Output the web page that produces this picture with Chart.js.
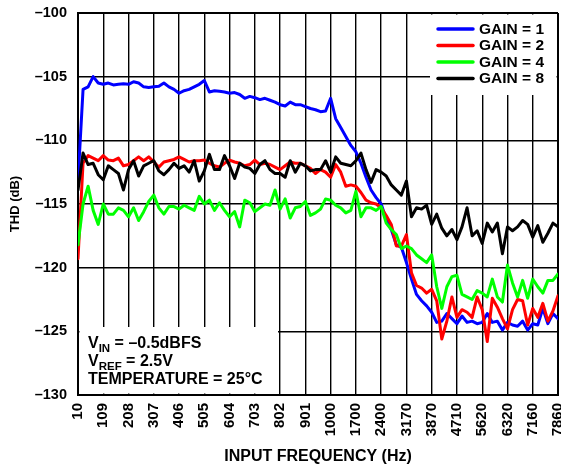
<!DOCTYPE html>
<html>
<head>
<meta charset="utf-8">
<script src="https://cdn.jsdelivr.net/npm/chart.js@4/dist/chart.umd.min.js"></script>
<style>
  html, body { margin: 0; padding: 0; background: #fff; }
  #wrap { width: 561px; height: 468px; }
</style>
</head>
<body>
<div id="wrap"><canvas id="c" width="561" height="468"></canvas></div>
<script>
// ---- data ----
const freqTicks = ['10','109','208','307','406','505','604','703','802','901','1000','1700','2400','3170','3870','4710','5620','6320','7160','7860'];
const samplesPerDiv = 5; // samples between adjacent frequency ticks
const thdTicks = [-130, -125, -120, -115, -110, -105, -100];

const gain1 = [
-113.2, -106.0, -105.8, -105.0, -105.5, -105.6, -105.5, -105.65, -105.6, -105.55,
-105.6, -105.4, -105.5, -105.8, -105.85, -105.8, -105.75, -105.5, -105.8, -106.0,
-106.3, -106.1, -106.0, -105.8, -105.6, -105.3, -106.2, -106.1, -106.15, -106.2,
-106.3, -106.25, -106.4, -106.7, -106.55, -106.65, -106.8, -106.7, -106.85, -107.0,
-107.2, -107.3, -107.0, -107.2, -107.2, -107.35, -107.5, -107.6, -107.75, -107.7,
-106.7, -108.3, -109.0, -109.7, -110.4, -110.9, -111.8, -112.9, -113.9, -114.5,
-115.0, -116.2, -117.0, -118.2, -118.4, -119.6, -120.9, -122.1, -122.6, -123.0,
-123.5, -124.3, -124.2, -123.6, -124.0, -124.4, -123.8, -124.3, -124.2, -124.4,
-124.3, -123.6, -124.3, -124.2, -124.9, -124.3, -124.5, -124.6, -124.2, -124.9,
-124.4, -124.5, -123.2, -124.4, -123.6, -124.0
];
const gain2 = [
-119.3, -111.8, -111.2, -111.4, -111.6, -111.2, -111.55, -111.6, -111.4, -112.0,
-111.9, -111.6, -111.3, -111.6, -111.3, -111.7, -112.1, -111.7, -111.6, -111.5,
-111.3, -111.5, -111.7, -111.6, -111.6, -111.55, -111.8, -112.0, -112.1, -111.8,
-111.55, -111.7, -111.8, -112.0, -111.9, -111.55, -111.9, -111.8, -111.9, -112.1,
-112.3, -112.0, -111.7, -111.8, -111.8, -112.0, -112.2, -112.6, -112.3, -112.5,
-112.9, -111.9, -112.5, -113.6, -113.5, -113.6, -114.1, -114.7, -114.9, -115.0,
-115.3, -115.9, -116.6, -118.3, -118.3, -117.4, -120.4, -121.4, -121.6, -122.0,
-121.7, -122.6, -125.6, -124.2, -122.3, -123.9, -123.3, -123.5, -123.9, -122.3,
-123.3, -125.8, -122.4, -123.1, -124.0, -124.8, -123.3, -122.5, -122.6, -124.5,
-123.2, -123.9, -122.8, -124.2, -123.4, -122.2
];
const gain4 = [
-118.2, -115.0, -113.6, -115.5, -116.6, -115.0, -115.8, -115.8, -115.3, -115.5,
-116.0, -115.3, -116.3, -115.6, -114.8, -114.3, -115.3, -115.8, -115.2, -115.2,
-115.4, -115.1, -115.3, -115.5, -114.4, -115.0, -114.7, -115.5, -114.9, -115.5,
-116.0, -115.6, -116.8, -114.7, -114.9, -115.6, -115.3, -115.0, -115.1, -113.9,
-115.4, -114.6, -116.1, -115.3, -115.2, -114.8, -115.9, -115.7, -115.4, -114.6,
-114.7, -115.1, -115.3, -115.7, -115.5, -114.0, -116.0, -115.3, -115.3, -115.5,
-115.2, -116.5, -117.0, -117.4, -118.5, -118.3, -118.5, -119.0, -119.3, -119.6,
-119.0, -121.5, -123.2, -121.5, -120.7, -120.6, -122.1, -122.3, -122.5, -121.8,
-122.0, -122.3, -120.9, -122.3, -122.7, -119.8, -121.2, -122.3, -121.0, -122.4,
-120.9, -121.5, -122.0, -121.0, -121.0, -120.5
];
const gain8 = [
-113.9, -111.0, -111.9, -111.8, -112.7, -113.1, -112.0, -112.3, -112.6, -113.9,
-112.3, -111.6, -112.8, -112.0, -111.8, -111.6, -112.4, -112.7, -112.3, -111.8,
-112.2, -112.0, -112.5, -111.6, -113.2, -112.4, -111.1, -112.3, -112.3, -111.2,
-112.0, -113.0, -111.8, -112.1, -112.2, -112.6, -111.9, -111.6, -112.3, -112.6,
-112.6, -112.9, -111.6, -112.5, -111.8, -112.0, -112.4, -112.3, -112.3, -111.6,
-112.5, -111.3, -111.8, -111.9, -112.0, -111.6, -111.0, -112.3, -113.3, -112.3,
-112.5, -112.8, -113.5, -113.9, -114.3, -113.2, -116.0, -115.3, -115.4, -115.1,
-116.6, -115.8, -116.9, -117.5, -117.0, -117.8, -116.8, -115.3, -117.5, -117.1,
-118.1, -116.5, -117.2, -116.5, -118.9, -116.8, -117.1, -116.8, -116.3, -116.6,
-117.6, -116.7, -118.0, -117.3, -116.5, -116.8
];
const seriesLabels = ['GAIN = 1', 'GAIN = 2', 'GAIN = 4', 'GAIN = 8'];
const seriesColors = ['#0000FF', '#FF0000', '#00FF00', '#000000'];

// ---- build ----
const FONT = '"Liberation Sans", Arial, Helvetica, sans-serif';
const toPts = arr => arr.map((v, i) => ({ x: i / samplesPerDiv, y: v }));
const allSeries = [gain1, gain2, gain4, gain8];
const drawOrder = [4, 3, 2, 1];

const datasets = allSeries.map((s, i) => ({
  label: seriesLabels[i],
  data: toPts(s),
  borderColor: seriesColors[i],
  backgroundColor: seriesColors[i],
  borderWidth: 3,
  pointRadius: 0,
  tension: 0,
  order: drawOrder[i],
  borderJoinStyle: 'round',
  borderCapStyle: 'round'
}));

const lastX = freqTicks.length - 1;

const overlayPlugin = {
  id: 'overlay',
  beforeDatasetsDraw(chart) {
    const ctx = chart.ctx;
    const a = chart.chartArea;
    ctx.save();
    ctx.fillStyle = '#fff';
    // legend box (top-right)
    ctx.fillRect(430, a.top + 1.5, a.right - 1.5 - 430, 95 - a.top - 1.5);
    // annotation box (bottom-left)
    ctx.fillRect(a.left + 1.5, 327, 278 - a.left - 1.5, a.bottom - 1.5 - 327);
    ctx.restore();
  },
  afterDraw(chart) {
    const ctx = chart.ctx;
    ctx.save();
    // legend
    ctx.font = 'bold 15.5px ' + FONT;
    ctx.textBaseline = 'middle';
    ctx.textAlign = 'left';
    chart.data.datasets.forEach((d, i) => {
      const y = 29 + i * 16.5;
      ctx.strokeStyle = d.borderColor;
      ctx.lineWidth = 3.5;
      ctx.lineCap = 'round';
      ctx.beginPath();
      ctx.moveTo(438, y);
      ctx.lineTo(473, y);
      ctx.stroke();
      ctx.fillStyle = '#000';
      ctx.fillText(d.label, 479, y + 0.5);
    });
    // annotation text
    ctx.textBaseline = 'alphabetic';
    ctx.fillStyle = '#000';
    const x0 = 88;
    const big = 'bold 16px ' + FONT;
    const small = 'bold 11.5px ' + FONT;
    function sub(y, main, subscript, rest) {
      let x = x0;
      ctx.font = big; ctx.fillText(main, x, y); x += ctx.measureText(main).width;
      ctx.font = small; ctx.fillText(subscript, x, y + 4); x += ctx.measureText(subscript).width;
      ctx.font = big; ctx.fillText(rest, x, y);
    }
    sub(347.5, 'V', 'IN', ' = \u20130.5dBFS');
    sub(366, 'V', 'REF', ' = 2.5V');
    ctx.font = big;
    ctx.fillText('TEMPERATURE = 25\u00B0C', x0, 384);
    ctx.restore();
  }
};

const edgeWidth = (ctx, n) => (ctx.index === 0 || ctx.index === n) ? 2 : 1.4;

new Chart(document.getElementById('c'), {
  type: 'line',
  data: { datasets },
  plugins: [overlayPlugin],
  options: {
    responsive: false,
    animation: false,
    events: [],
    layout: { padding: { top: 13, right: 3, left: 0, bottom: 0 } },
    plugins: { legend: { display: false }, tooltip: { enabled: false } },
    scales: {
      x: {
        type: 'linear',
        min: 0,
        max: lastX,
        afterBuildTicks: axis => { axis.ticks = freqTicks.map((f, i) => ({ value: i })); },
        afterFit: s => { s.height = 73; s.paddingLeft = 0; s.paddingRight = 0; },
        ticks: {
          autoSkip: false,
          maxRotation: 90,
          minRotation: 90,
          padding: 8,
          color: '#000',
          font: { family: FONT, size: 15, weight: 'bold' },
          callback: (v) => freqTicks[Math.round(v)]
        },
        grid: { color: '#000', lineWidth: c => edgeWidth(c, lastX), drawTicks: false },
        border: { display: true, color: '#000', width: 2 },
        title: {
          display: true,
          text: 'INPUT FREQUENCY (Hz)',
          color: '#000',
          font: { family: FONT, size: 16, weight: 'bold' },
          padding: { top: 0, bottom: 2 }
        }
      },
      y: {
        min: thdTicks[0],
        max: thdTicks[thdTicks.length - 1],
        afterBuildTicks: axis => { axis.ticks = thdTicks.map(v => ({ value: v })); },
        afterFit: s => { s.width = 78; s.paddingTop = 0; s.paddingBottom = 0; },
        ticks: {
          padding: 11,
          color: '#000',
          font: { family: FONT, size: 14.5, weight: 'bold' },
          callback: v => (v < 0 ? '\u2013' : '') + Math.abs(v)
        },
        grid: { color: '#000', lineWidth: c => edgeWidth(c, thdTicks.length - 1), drawTicks: false },
        border: { display: true, color: '#000', width: 2 },
        title: {
          display: true,
          text: 'THD (dB)',
          color: '#000',
          font: { family: FONT, size: 13, weight: 'bold' },
          padding: { top: 8, bottom: 0 }
        }
      }
    }
  }
});
</script>
</body>
</html>
